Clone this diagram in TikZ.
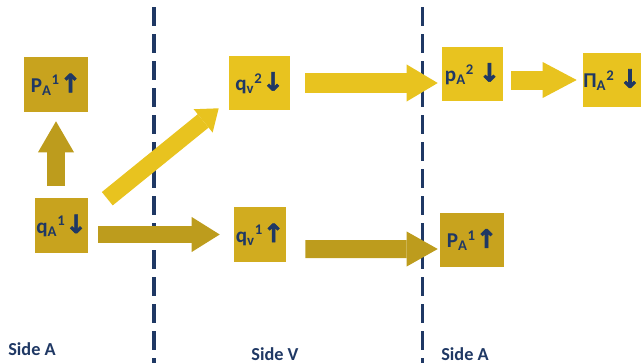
\documentclass[tikz,border=0pt]{standalone}
\usepackage{fontspec}
\setmainfont{Carlito}
\newfontfamily\arrowfont{DejaVu Sans Bold}[FakeBold=2.5]
\usetikzlibrary{arrows.meta,calc}

\definecolor{navyblue}{HTML}{1F3864}
\definecolor{goldlight}{HTML}{E8C31F}
\definecolor{goldmid}{HTML}{D1AC1F}
\definecolor{golddark}{HTML}{C8A31E}
\definecolor{goldolive}{HTML}{BD9C1D}

\newcommand{\upar}{{\arrowfont\fontsize{18}{18}\selectfont ↑}}
\newcommand{\dnar}{{\arrowfont\fontsize{18}{18}\selectfont ↓}}

\tikzset{
	box/.style={rectangle,inner sep=0pt,text=navyblue,font=\fontsize{15}{18}\selectfont\bfseries},
	blockarrow/.style n args={3}{line width=#1,-{Triangle[width=#2,length=#3,line width=0pt]}},
	sideline/.style={navyblue,line width=0.075cm,dash pattern=on 0.475cm off 0.2cm},
	sidelabel/.style={text=navyblue,font=\fontsize{13}{15}\selectfont\bfseries}
}

\begin{document}
\begin{tikzpicture}[x=0.025cm,y=-0.025cm]
				\useasboundingbox (0,0) rectangle (641,363);
				\draw[sideline] (154,7) -- (154,363);
				\draw[sideline] (422,7) -- (422,363);

				\node[box,fill=golddark,minimum width=1.6cm,minimum height=1.375cm] (PAup) at (56,84.5) {P\textsubscript{A}\textsuperscript{1}\upar};
				\node[box,fill=golddark,minimum width=1.325cm,minimum height=1.375cm] (qA) at (61.5,225.5) {q\textsubscript{A}\textsuperscript{1}\dnar};
				\node[box,fill=goldlight,minimum width=1.525cm,minimum height=1.35cm] (qvtwo) at (259.5,83) {q\textsubscript{v}\textsuperscript{2}\dnar};
				\node[box,fill=goldmid,minimum width=1.3cm,minimum height=1.375cm] (qvone) at (260,234.5) {q\textsubscript{v}\textsuperscript{1}\upar};
				\node[box,fill=goldlight,minimum width=1.525cm,minimum height=1.35cm] (pAtwo) at (472.5,74) {p\textsubscript{A}\textsuperscript{2} \dnar};
				\node[box,fill=goldlight,minimum width=1.45cm,minimum height=1.35cm] (PiA) at (612,80) {Π\textsubscript{A}\textsuperscript{2} \dnar};
				\node[box,fill=golddark,minimum width=1.6cm,minimum height=1.35cm] (PAdown) at (472,240) {P\textsubscript{A}\textsuperscript{1}\upar};

				\draw[blockarrow={0.45cm}{0.9cm}{0.775cm},color=goldolive,shorten <=0.3cm,shorten >=0.225cm] (PAup |- qA.north) -- (PAup.south);
				\draw[blockarrow={0.43cm}{0.75cm}{0.5cm},color=goldlight] ($(qA.north east)+(19,1)$) -- ($(qvtwo.south west)+(-10,-2)$);
				\draw[blockarrow={0.425cm}{0.875cm}{0.7cm},color=goldolive,shorten <=0.25cm,shorten >=0.35cm] (qA.east |- qvone) -- (qvone.west);
				\draw[blockarrow={0.5cm}{0.925cm}{0.775cm},color=goldlight,shorten <=0.375cm,shorten >=0.1cm] (qvtwo.east) -- (pAtwo.west |- qvtwo);
				\draw[blockarrow={0.475cm}{0.9cm}{0.85cm},color=goldlight,shorten <=0.2cm,shorten >=0.15cm] (pAtwo.east |- PiA) -- (PiA.west);
				\draw[blockarrow={0.45cm}{0.875cm}{0.775cm},color=goldolive] ($(qvone.east)+(19,14.5)$) -- ($(PAdown.west)+(-2,9)$);

				\node[sidelabel] (sideAleft) at (32,349) {Side A};
				\node[sidelabel] (sideV) at (275,354) {Side V};
				\node[sidelabel] (sideAright) at (465,354) {Side A};
\end{tikzpicture}
\end{document}
